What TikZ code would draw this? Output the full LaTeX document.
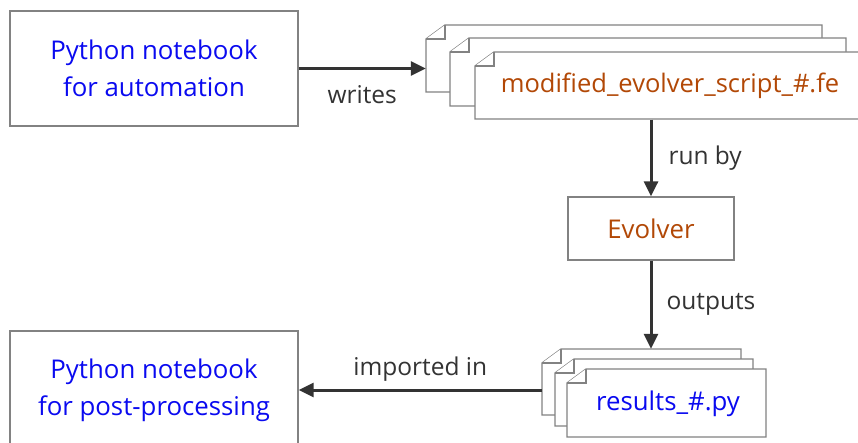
\documentclass[tikz,border=0pt]{standalone}
\usepackage{fontspec}
\setmainfont{Open Sans}
\usetikzlibrary{arrows.meta,calc}
\definecolor{txtblue}{RGB}{10,10,240}
\definecolor{txtorange}{RGB}{178,72,6}
\definecolor{edgegray}{RGB}{130,130,130}
\definecolor{arrowgray}{RGB}{51,51,51}
\definecolor{labelgray}{RGB}{51,51,51}
\newcommand{\foldsheet}[4]{%
  \filldraw[sheetline] (#1,#2+14) -- (#1+19,#2) -- (#3,#2) -- (#3,#4) -- (#1,#4) -- cycle;
  \draw[sheetline] (#1,#2+14) -- (#1+19,#2+14) -- (#1+19,#2);}
\begin{document}
\begin{tikzpicture}[x=1pt,y=-1pt,
  box/.style={draw=edgegray,line width=1.3pt,fill=white,inner sep=0pt,align=center,
    font=\fontsize{25.8}{37}\selectfont},
  sheetline/.style={draw=edgegray,line width=1.3pt,fill=white,line join=miter},
  sheetnode/.style={draw=none,inner sep=0pt},
  conn/.style={draw=arrowgray,line width=3pt,-{Triangle[length=15pt,width=14pt]}},
  lbl/.style={text=labelgray,font=\fontsize{24.5}{28}\selectfont,inner sep=0pt}]
\useasboundingbox (0,0) rectangle (858,443);
% left boxes
\node[box,text=txtblue,minimum width=288,minimum height=115] (A) at (154,68.5)
  {Python notebook\\for automation};
\node[box,text=txtblue,minimum width=288,minimum height=118] (B) at (154,390)
  {Python notebook\\for post-processing};
% .fe stack
\foldsheet{426}{25}{822}{92}
\node[sheetnode,minimum width=396,minimum height=67] (fe1) at (624,58.5) {};
\foldsheet{450}{38}{846}{106}
\node[sheetnode,minimum width=396,minimum height=68] (fe2) at (648,72) {};
\foldsheet{475}{52}{864}{119}
\node[sheetnode,minimum width=389,minimum height=67,text=txtorange,
  font=\fontsize{25.5}{30}\selectfont] (fe3) at (670,86) {modified\_evolver\_script\_\#.fe};
% Evolver
\node[box,text=txtorange,minimum width=166,minimum height=63] (ev) at (651,228.5) {Evolver};
% results stack
\foldsheet{542}{349}{741}{415}
\node[sheetnode,minimum width=199,minimum height=66] (py1) at (641.5,382) {};
\foldsheet{555}{359}{753}{426}
\node[sheetnode,minimum width=198,minimum height=67] (py2) at (654,392.5) {};
\foldsheet{567}{369}{766}{437}
\node[sheetnode,minimum width=199,minimum height=68,text=txtblue,
  font=\fontsize{25.8}{30}\selectfont] (py3) at (668,404) {results\_\#.py};
% connectors
\draw[conn] (A.east) -- (A.east -| fe1.west) node[lbl,midway,below=16pt] (l1) {writes};
\draw[conn] (ev.north |- fe3.south) -- (ev.north) node[lbl,midway,right=16pt] (l2) {run by};
\draw[conn] (ev.south) -- (ev.south |- py1.north) node[lbl,midway,right=14pt] (l3) {outputs};
\draw[conn] (B.east -| py1.west) -- (B.east) node[lbl,midway,above=7pt] (l4) {imported in};
\end{tikzpicture}
\end{document}
